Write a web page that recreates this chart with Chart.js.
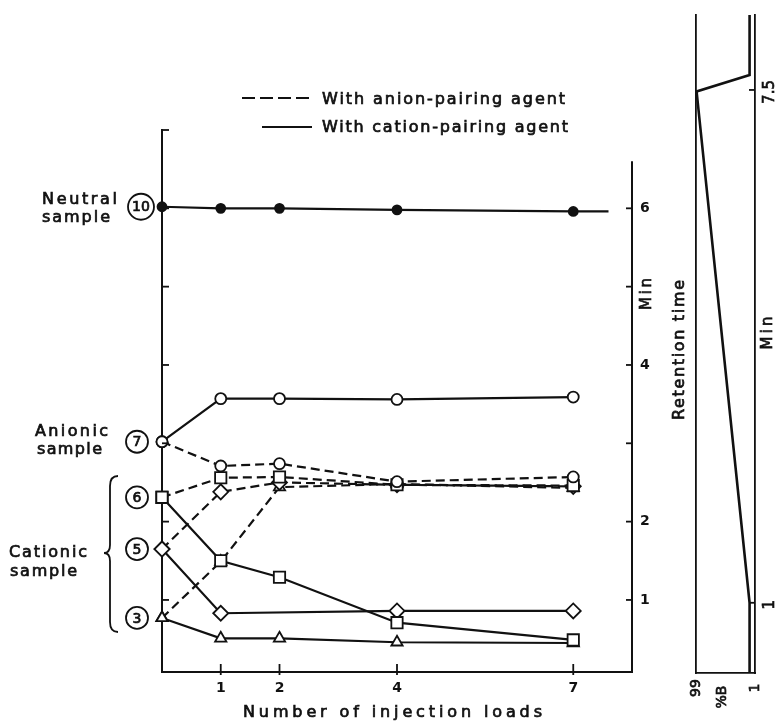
<!DOCTYPE html>
<html>
<head>
<meta charset="utf-8">
<script src="https://cdn.jsdelivr.net/npm/chart.js@4"></script>
<style>
  html, body { margin: 0; padding: 0; background: #fff; }
  #wrap { position: relative; width: 776px; height: 722px; }
  canvas { position: absolute; left: 0; top: 0; }
</style>
</head>
<body>
<div id="wrap">
  <canvas id="main" width="776" height="722"></canvas>
  <canvas id="grad" width="776" height="722"></canvas>
</div>
<script>
// Retention time (min) versus number of injection loads
const loads = [0, 1, 2, 4, 7];
const neutralLoads = [0, 1, 2, 4, 7, 7.6];
const neutralMin = [6.02, 6.00, 6.00, 5.98, 5.96, 5.96];
const anionicCation = [3.02, 3.57, 3.57, 3.56, 3.59];
const anionicAnion = [3.02, 2.71, 2.74, 2.51, 2.57];
const cat6Cation = [2.31, 1.50, 1.29, 0.71, 0.49];
const cat6Anion = [2.31, 2.56, 2.57, 2.47, 2.46];
const cat5CationLoads = [0, 1, 4, 7];
const cat5Cation = [1.65, 0.83, 0.86, 0.86];
const cat5Anion = [1.65, 2.38, 2.50, 2.47, 2.45];
const cat3Cation = [0.77, 0.51, 0.51, 0.46, 0.45];
const cat3Anion = [0.77, 1.49, 2.44, 2.48, 2.43];

// Axis ticks
const loadTicks = [1, 2, 4, 7];
const leftTickMarks = [1, 2, 3, 4, 5, 6, 7];
const rightTickMarks = [1, 2, 3, 4, 5, 6];
const rightTickLabels = [1, 2, 4, 6];

// Gradient programme: time (min) against %B
const gradientMin = [0.11, 1.0, 7.48, 7.69, 8.45];
const gradientB = [10, 10, 98, 10, 10];
const gradientTimeTicks = [1, 7.5];
const percentBTicks = [99, 1];

const INK = '#111';
const FONT = '"DejaVu Sans", "Liberation Sans", sans-serif';

const pts = (xs, ys) => xs.map((x, i) => ({ x: x, y: ys[i] }));

function series(label, xs, ys, style, dashed, radius, filled) {
  return {
    label: label,
    data: pts(xs, ys),
    clip: false,
    borderColor: INK,
    borderWidth: 2.2,
    borderDash: dashed ? [9, 5] : [],
    pointStyle: style,
    pointRadius: radius,
    pointBorderWidth: 1.8,
    pointBorderColor: INK,
    pointBackgroundColor: filled ? INK : '#fff',
    tension: 0,
    fill: false
  };
}

// Text centred on (cx, cy); with a width, the letters are spread to fill it
function fitText(ctx, text, cx, cy, width, size, angle) {
  ctx.save();
  ctx.translate(cx, cy);
  if (angle) ctx.rotate(angle);
  ctx.font = size + 'px ' + FONT;
  ctx.fillStyle = INK;
  ctx.strokeStyle = INK;
  ctx.lineWidth = 0.7;
  ctx.textBaseline = 'middle';
  const n = Array.from(text).length;
  if (!width || n < 2 || !('letterSpacing' in ctx)) {
    ctx.textAlign = 'center';
    ctx.fillText(text, 0, 0);
    ctx.strokeText(text, 0, 0);
  } else {
    const w0 = ctx.measureText(text).width;
    ctx.textAlign = 'left';
    ctx.letterSpacing = ((width - w0) / (n - 1)) + 'px';
    ctx.fillText(text, -width / 2, 0);
    ctx.strokeText(text, -width / 2, 0);
  }
  ctx.restore();
}

function line(ctx, x1, y1, x2, y2, w, dash) {
  ctx.save();
  ctx.strokeStyle = INK;
  ctx.lineWidth = w;
  ctx.setLineDash(dash || []);
  ctx.beginPath();
  ctx.moveTo(x1, y1);
  ctx.lineTo(x2, y2);
  ctx.stroke();
  ctx.restore();
}

function circled(ctx, label, cx, cy, r) {
  ctx.save();
  ctx.strokeStyle = INK;
  ctx.lineWidth = 1.8;
  ctx.beginPath();
  ctx.arc(cx, cy, r, 0, Math.PI * 2);
  ctx.stroke();
  ctx.restore();
  fitText(ctx, label, cx, cy + 1, 0, 14);
}

const mainDecor = {
  id: 'mainDecor',
  afterDraw(chart) {
    const ctx = chart.ctx;
    const a = chart.chartArea;
    const x = chart.scales.x, y = chart.scales.y;

    // left axis: inward tick marks
    leftTickMarks.forEach(v => {
      const py = y.getPixelForValue(v);
      line(ctx, a.left, py, a.left + 7, py, 1.8);
    });
    // right axis line up to 6.6 min with inward ticks
    line(ctx, a.right, a.bottom + 1, a.right, y.getPixelForValue(6.6), 2);
    rightTickMarks.forEach(v => {
      const py = y.getPixelForValue(v);
      line(ctx, a.right, py, a.right - 6, py, 1.8);
    });
    // x axis tick marks crossing the axis
    loadTicks.forEach(v => {
      const px = x.getPixelForValue(v);
      line(ctx, px, a.bottom - 8, px, a.bottom + 3, 1.8);
    });

    // sample numbers on the starting points
    circled(ctx, '10', 141, y.getPixelForValue(neutralMin[0]), 13);
    circled(ctx, '7', 137, y.getPixelForValue(anionicCation[0]), 11);
    circled(ctx, '6', 137, y.getPixelForValue(cat6Cation[0]), 11);
    circled(ctx, '5', 137, y.getPixelForValue(cat5Cation[0]), 11);
    circled(ctx, '3', 137, y.getPixelForValue(cat3Cation[0]), 11);

    // sample group labels
    fitText(ctx, 'Neutral', 79.5, 200, 75, 16);
    fitText(ctx, 'sample', 76, 218, 68, 16);
    fitText(ctx, 'Anionic', 71.5, 432, 73, 16);
    fitText(ctx, 'sample', 69.5, 450, 65, 16);
    fitText(ctx, 'Cationic', 48, 553, 78, 16);
    fitText(ctx, 'sample', 43.5, 572, 67, 16);

    // brace grouping the cationic samples
    ctx.save();
    ctx.strokeStyle = INK;
    ctx.lineWidth = 1.8;
    ctx.beginPath();
    ctx.moveTo(118, 476);
    ctx.quadraticCurveTo(110, 476, 110, 486);
    ctx.lineTo(110, 545);
    ctx.quadraticCurveTo(110, 553, 104, 553);
    ctx.quadraticCurveTo(110, 553, 110, 561);
    ctx.lineTo(110, 622);
    ctx.quadraticCurveTo(110, 632, 118, 632);
    ctx.stroke();
    ctx.restore();

    // key
    line(ctx, 242, 98, 311, 98, 2.2, [13, 5]);
    fitText(ctx, 'With anion-pairing agent', 443.5, 100, 243, 16);
    line(ctx, 262, 127, 312, 127, 2.2);
    fitText(ctx, 'With cation-pairing agent', 445, 128, 246, 16);

    // axis titles
    fitText(ctx, 'Number of injection loads', 392.5, 713, 299, 16);
    fitText(ctx, 'Min', 647, 294, 32, 15, -Math.PI / 2);
  }
};

new Chart(document.getElementById('main'), {
  type: 'line',
  data: {
    datasets: [
      series('Neutral', neutralLoads, neutralMin, 'circle', false, [4.5, 4.5, 4.5, 4.5, 4.5, 0], true),
      series('Anionic, cation-pairing', loads, anionicCation, 'circle', false, 5.5, false),
      series('Anionic, anion-pairing', loads, anionicAnion, 'circle', true, 5.5, false),
      series('Cationic 6, cation-pairing', loads, cat6Cation, 'rect', false, 8, false),
      series('Cationic 6, anion-pairing', loads, cat6Anion, 'rect', true, 8, false),
      series('Cationic 5, cation-pairing', cat5CationLoads, cat5Cation, 'rectRot', false, 7.5, false),
      series('Cationic 5, anion-pairing', loads, cat5Anion, 'rectRot', true, 7.5, false),
      series('Cationic 3, cation-pairing', loads, cat3Cation, 'triangle', false, 6.5, false),
      series('Cationic 3, anion-pairing', loads, cat3Anion, 'triangle', true, 6.5, false)
    ]
  },
  options: {
    responsive: false,
    animation: false,
    devicePixelRatio: 1,
    events: [],
    layout: { padding: { left: 162, right: 114, top: 130, bottom: 10 } },
    plugins: { legend: { display: false }, tooltip: { enabled: false } },
    scales: {
      x: {
        type: 'linear', position: 'bottom', min: 0, max: 8,
        afterBuildTicks: s => { s.ticks = loadTicks.map(v => ({ value: v })); },
        afterFit: s => { s.height = 40; },
        grid: { display: false, drawTicks: false },
        border: { display: true, color: INK, width: 2 },
        ticks: { color: INK, font: { family: FONT, size: 14, weight: 'bold' }, padding: 8, maxRotation: 0, autoSkip: false }
      },
      y: {
        type: 'linear', position: 'left', min: 0.08, max: 7,
        afterFit: s => { s.width = 0; },
        grid: { display: false, drawTicks: false },
        border: { display: true, color: INK, width: 2 },
        ticks: { display: false }
      },
      y2: {
        type: 'linear', position: 'right', min: 0.08, max: 7,
        afterBuildTicks: s => { s.ticks = rightTickLabels.map(v => ({ value: v })); },
        afterFit: s => { s.width = 30; },
        grid: { display: false, drawTicks: false },
        border: { display: false },
        ticks: { color: INK, font: { family: FONT, size: 14, weight: 'bold' }, padding: 8, autoSkip: false }
      }
    }
  },
  plugins: [mainDecor]
});

const gradDecor = {
  id: 'gradDecor',
  afterDraw(chart) {
    const ctx = chart.ctx;
    const a = chart.chartArea;
    const t = chart.scales.y, b = chart.scales.x;
    gradientTimeTicks.forEach(v => {
      const py = t.getPixelForValue(v);
      line(ctx, a.right, py, a.right - 6, py, 1.8);
      fitText(ctx, String(v), 770, py + 2, 0, 15, -Math.PI / 2);
    });
    percentBTicks.forEach(v => {
      fitText(ctx, String(v), b.getPixelForValue(v), 688, 0, 14, -Math.PI / 2);
    });
    fitText(ctx, '%B', 722, 697, 0, 14, -Math.PI / 2);
    fitText(ctx, 'Retention time', 680, 350, 140, 16, -Math.PI / 2);
    fitText(ctx, 'Min', 768, 333, 33, 15, -Math.PI / 2);
  }
};

new Chart(document.getElementById('grad'), {
  type: 'line',
  data: {
    datasets: [{
      label: 'Gradient',
      data: pts(gradientB, gradientMin),
      clip: false,
      borderColor: INK,
      borderWidth: 2.6,
      pointRadius: 0,
      tension: 0,
      fill: false
    }]
  },
  options: {
    responsive: false,
    animation: false,
    devicePixelRatio: 1,
    events: [],
    layout: { padding: { left: 696, right: 21, top: 15, bottom: 49 } },
    plugins: { legend: { display: false }, tooltip: { enabled: false } },
    scales: {
      x: {
        type: 'linear', reverse: true, min: 1, max: 99,
        afterFit: s => { s.height = 0; },
        grid: { display: false, drawTicks: false },
        border: { display: true, color: INK, width: 1.8 },
        ticks: { display: false }
      },
      y: {
        type: 'linear', position: 'left', min: 0.11, max: 8.45,
        afterFit: s => { s.width = 0; },
        grid: { display: false, drawTicks: false },
        border: { display: true, color: INK, width: 1.8 },
        ticks: { display: false }
      },
      y2: {
        type: 'linear', position: 'right', min: 0.11, max: 8.45,
        afterFit: s => { s.width = 0; },
        grid: { display: false, drawTicks: false },
        border: { display: true, color: INK, width: 1.8 },
        ticks: { display: false }
      }
    }
  },
  plugins: [gradDecor]
});
</script>
</body>
</html>
